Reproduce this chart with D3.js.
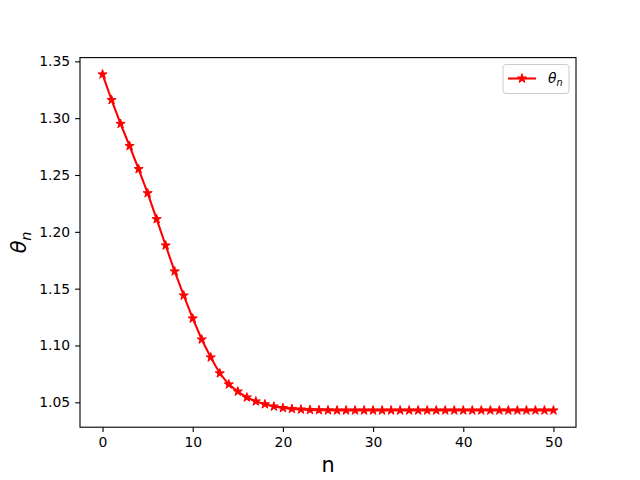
<!DOCTYPE html>
<html>
<head>
<meta charset="utf-8">
<script src="https://cdn.jsdelivr.net/npm/d3@7"></script>
<style>
  body { margin: 0; background: #fff; }
  text { font-family: "DejaVu Sans", sans-serif; }
</style>
</head>
<body>
<div id="chart"></div>
<script>
// theta_n, n = 0..50
const n_values = d3.range(0, 51);
const theta_values = [
  1.3385, 1.3160, 1.2950, 1.2755, 1.2552, 1.2340, 1.2112, 1.1880, 1.1652, 1.1440,
  1.1238, 1.1053, 1.0895, 1.0755, 1.0658, 1.0595, 1.0543, 1.0508, 1.0483, 1.0463,
  1.0450, 1.0442, 1.0437, 1.0433, 1.0431, 1.0430, 1.0429, 1.0429, 1.0429, 1.0429,
  1.0429, 1.0429, 1.0429, 1.0429, 1.0429, 1.0429, 1.0429, 1.0429, 1.0429, 1.0429,
  1.0429, 1.0429, 1.0429, 1.0429, 1.0429, 1.0429, 1.0429, 1.0429, 1.0429, 1.0429,
  1.0429
];
const x_ticks = [0, 10, 20, 30, 40, 50];
const y_ticks = [1.05, 1.10, 1.15, 1.20, 1.25, 1.30, 1.35];

const width = 640, height = 480;
const ax_left = 80, ax_right = 576, ax_top = 57.6, ax_bottom = 427.2;
const line_color = 'red';

const svg = d3.select('#chart').append('svg')
  .attr('width', width).attr('height', height);

// matplotlib-like 5% margins
const xmin = d3.min(n_values), xmax = d3.max(n_values);
const ymin = d3.min(theta_values), ymax = d3.max(theta_values);
const xpad = (xmax - xmin) * 0.05, ypad = (ymax - ymin) * 0.05;

const x = d3.scaleLinear().domain([xmin - xpad, xmax + xpad]).range([ax_left, ax_right]);
const y = d3.scaleLinear().domain([ymin - ypad, ymax + ypad]).range([ax_bottom, ax_top]);

const xAxis = svg.append('g')
  .attr('transform', `translate(0,${ax_bottom})`)
  .call(d3.axisBottom(x).tickValues(x_ticks).tickSize(4.9).tickPadding(4.9).tickFormat(d3.format('d')));
const yAxis = svg.append('g')
  .attr('transform', `translate(${ax_left},0)`)
  .call(d3.axisLeft(y).tickValues(y_ticks).tickSize(4.9).tickPadding(4.9).tickFormat(d3.format('.2f')));

[xAxis, yAxis].forEach(function (g) {
  g.select('.domain').remove();
  g.selectAll('line').attr('stroke', 'black').attr('stroke-width', 1.1);
  g.selectAll('text').attr('font-family', '"DejaVu Sans", sans-serif')
    .attr('font-size', '13.9px').attr('fill', 'black');
});

// frame
svg.append('rect')
  .attr('x', ax_left).attr('y', ax_top)
  .attr('width', ax_right - ax_left).attr('height', ax_bottom - ax_top)
  .attr('fill', 'none').attr('stroke', 'black').attr('stroke-width', 1.1);

const data = n_values.map(function (n, i) { return { n: n, v: theta_values[i] }; });

const line = d3.line().x(function (d) { return x(d.n); }).y(function (d) { return y(d.v); });

svg.append('path')
  .datum(data)
  .attr('d', line)
  .attr('fill', 'none')
  .attr('stroke', line_color)
  .attr('stroke-width', 2.08)
  .attr('stroke-linejoin', 'round');

const star = d3.symbol().type(d3.symbolStar).size(26);

svg.selectAll('.marker')
  .data(data)
  .enter()
  .append('path')
  .attr('class', 'marker')
  .attr('d', star)
  .attr('transform', function (d) { return `translate(${x(d.n)},${y(d.v)})`; })
  .attr('fill', line_color)
  .attr('stroke', line_color)
  .attr('stroke-width', 1);

// axis labels
svg.append('text')
  .attr('x', (ax_left + ax_right) / 2).attr('y', 472)
  .attr('text-anchor', 'middle')
  .attr('font-size', '20.8px')
  .text('n');

const ylab = svg.append('text')
  .attr('transform', `translate(26,${(ax_top + ax_bottom) / 2}) rotate(-90)`)
  .attr('text-anchor', 'middle')
  .attr('font-size', '20.8px')
  .attr('font-style', 'italic');
ylab.append('tspan').text('θ');
ylab.append('tspan').attr('font-size', '14.5px').attr('dy', 5).text('n');

// legend
const lg = svg.append('g');
lg.append('rect')
  .attr('x', 503).attr('y', 64.5).attr('width', 66).attr('height', 29)
  .attr('rx', 3).attr('fill', 'white').attr('fill-opacity', 0.8)
  .attr('stroke', '#cccccc').attr('stroke-width', 1);
lg.append('line')
  .attr('x1', 508).attr('x2', 536).attr('y1', 78.5).attr('y2', 78.5)
  .attr('stroke', line_color).attr('stroke-width', 2.08);
lg.append('path')
  .attr('d', star)
  .attr('transform', 'translate(522,78.5)')
  .attr('fill', line_color).attr('stroke', line_color).attr('stroke-width', 1);
const lt = lg.append('text')
  .attr('x', 548).attr('y', 83)
  .attr('font-size', '13.9px')
  .attr('font-style', 'italic');
lt.append('tspan').text('θ');
lt.append('tspan').attr('font-size', '9.7px').attr('dy', 3).text('n');
</script>
</body>
</html>
